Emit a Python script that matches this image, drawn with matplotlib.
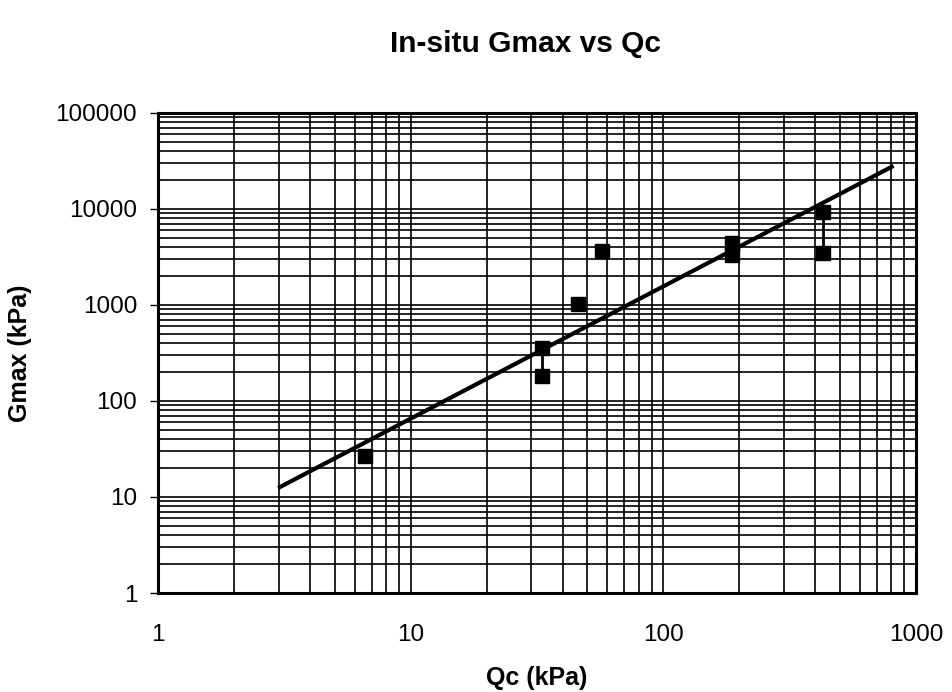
import numpy as np
import matplotlib
matplotlib.use('Agg')
import matplotlib.pyplot as plt
from matplotlib.ticker import LogLocator, NullFormatter, FixedLocator

plt.rcParams['font.family'] = ['Liberation Sans', 'DejaVu Sans']

# measured points (Qc, Gmax), both kPa
qc = [6.6, 33, 33, 46, 57, 188, 188, 428, 428]
gmax = [26.7, 357, 182, 1024, 3650, 4425, 3320, 9300, 3480]

# pairs joined by a short vertical line
pair_x = [33, 428]
pair_lo = [182, 3480]
pair_hi = [357, 9300]

# power-law trend line end points
fit_x = [3.04, 803]
fit_y = [12.7, 27400]

x_ticks = [1, 10, 100, 1000]
y_ticks = [1, 10, 100, 1000, 10000, 100000]

fig = plt.figure(figsize=(9.52, 6.92), dpi=100)
ax = fig.add_axes([0.166, 0.143, 0.796, 0.694])

ax.set_xscale('log')
ax.set_yscale('log')
ax.set_xlim(1, 1000)
ax.set_ylim(1, 100000)

ax.xaxis.set_major_locator(FixedLocator(x_ticks))
ax.yaxis.set_major_locator(FixedLocator(y_ticks))
ax.xaxis.set_minor_locator(LogLocator(base=10, subs=np.arange(2, 10)))
ax.yaxis.set_minor_locator(LogLocator(base=10, subs=np.arange(2, 10)))
ax.xaxis.set_minor_formatter(NullFormatter())
ax.yaxis.set_minor_formatter(NullFormatter())
ax.set_xticklabels([str(v) for v in x_ticks])
ax.set_yticklabels([str(v) for v in y_ticks])

ax.grid(True, which='both', color='black', linewidth=1.2)
ax.set_axisbelow(True)

ax.tick_params(axis='y', which='major', direction='out', length=6, width=1, pad=9, labelsize=17.5)
ax.tick_params(axis='x', which='major', length=0, pad=22, labelsize=17.5)
ax.tick_params(which='minor', length=0)

for s in ax.spines.values():
    s.set_linewidth(2.2)

ax.plot(fit_x, fit_y, color='black', linewidth=3, zorder=3)
ax.vlines(pair_x, pair_lo, pair_hi, color='black', linewidth=2, zorder=3)
ax.plot(qc, gmax, linestyle='none', marker='s', markersize=10.5, color='black', zorder=4)

ax.set_title('In-situ Gmax vs Qc', fontsize=21.5, fontweight='bold', pad=44, x=0.485)
ax.set_xlabel('Qc (kPa)', fontsize=18, fontweight='bold', labelpad=15)
ax.set_ylabel('Gmax (kPa)', fontsize=18, fontweight='bold', labelpad=17)

fig.savefig('out.png', dpi=100)
